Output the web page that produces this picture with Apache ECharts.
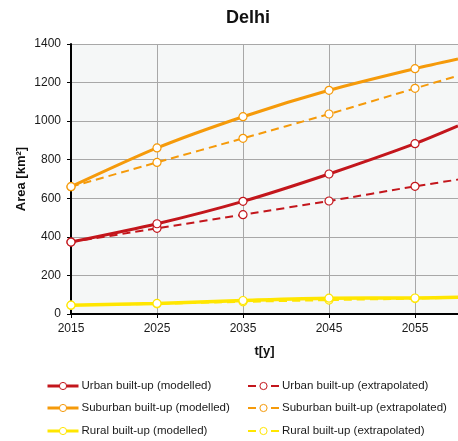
<!DOCTYPE html>
<html>
<head>
<meta charset="utf-8">
<script src="https://cdn.jsdelivr.net/npm/echarts@6/dist/echarts.min.js"></script>
<style>
  html, body { margin: 0; padding: 0; background: #ffffff; overflow: hidden; }
  #chart { width: 458px; height: 441px; }
</style>
</head>
<body>
<div id="chart"></div>
<script>
// Built-up area projections for Delhi (km²), sampled every decade plus the 2060 end point
const years = [2015, 2025, 2035, 2045, 2055, 2060];
const urbanModelled = [373, 468, 584, 726, 883, 975];
const urbanExtrapolated = [373, 444, 515, 586, 662, 697];
const suburbanModelled = [660, 861, 1023, 1160, 1272, 1322];
const suburbanExtrapolated = [660, 786, 911, 1037, 1170, 1235];
const ruralModelled = [46, 55, 70, 82, 83, 87];
const ruralExtrapolated = [46, 53, 63, 72, 80, 84];
const yTicks = [0, 200, 400, 600, 800, 1000, 1200, 1400];

const FONT = '"Liberation Sans", Arial, sans-serif';
const RED = '#c3161c';
const ORANGE = '#f59a0a';
const YELLOW = '#ffe600';

const names = {
  urbanMod: 'Urban built-up (modelled)',
  suburbanMod: 'Suburban built-up (modelled)',
  ruralMod: 'Rural built-up (modelled)',
  urbanExt: 'Urban built-up (extrapolated)',
  suburbanExt: 'Suburban built-up (extrapolated)',
  ruralExt: 'Rural built-up (extrapolated)'
};

// pair years with values; the end point carries no marker
function pairs(vals) {
  return vals.map((v, i) => {
    const item = { value: [years[i], v] };
    if (i === years.length - 1) item.symbol = 'none';
    return item;
  });
}

function lineSeries(name, vals, color, dashed) {
  return {
    name: name,
    type: 'line',
    data: pairs(vals),
    smooth: 0.25,
    symbol: 'circle',
    symbolSize: 8,
    showAllSymbol: true,
    z: dashed ? 2 : 3,
    itemStyle: { color: '#ffffff', borderColor: color, borderWidth: 1.2 },
    lineStyle: dashed
      ? { color: color, width: 2, type: [8, 5] }
      : { color: color, width: color === YELLOW ? 3.5 : 3 },
    emphasis: { disabled: true }
  };
}

// one legend entry per component so each sits on its own row/column
function legendEntry(name, left, top, dashed) {
  return {
    orient: 'horizontal',
    left: left, top: top,
    padding: 0,
    itemWidth: 31, itemHeight: 9, itemGap: 0,
    itemStyle: { borderWidth: 1 },
    lineStyle: dashed ? { type: [8, 15], width: 2 } : { width: 3 },
    textStyle: { fontFamily: FONT, fontSize: 11.5, color: '#1a1a1a', lineHeight: 14, padding: [0, 0, 0, -2] },
    data: [name]
  };
}

const chart = echarts.init(document.getElementById('chart'), null, { renderer: 'canvas' });

chart.setOption({
  animation: false,
  backgroundColor: '#ffffff',
  title: {
    text: 'Delhi',
    left: 243,
    textAlign: 'center',
    top: 4,
    textStyle: { fontFamily: FONT, fontSize: 18, fontWeight: 'bold', color: '#111111' }
  },
  grid: {
    left: 71, top: 44, right: -5, bottom: 127,
    show: true, backgroundColor: '#f5f7f7', borderWidth: 0
  },
  xAxis: {
    type: 'value',
    min: 2015, max: 2060, interval: 10,
    name: 't[y]',
    nameLocation: 'middle',
    nameGap: 31,
    nameMoveOverlap: false,
    nameTextStyle: { fontFamily: FONT, fontSize: 13, fontWeight: 'bold', color: '#111111' },
    axisLine: { show: true, onZero: false, lineStyle: { color: '#000000', width: 2 } },
    axisTick: { show: true, length: 4, lineStyle: { color: '#000000', width: 1 } },
    axisLabel: {
      fontFamily: FONT, fontSize: 12, color: '#1a1a1a', margin: 9,
      showMaxLabel: false,
      formatter: v => String(v)
    },
    splitLine: { show: true, lineStyle: { color: '#a8a8a8', width: 1 } }
  },
  yAxis: {
    type: 'value',
    min: yTicks[0], max: yTicks[yTicks.length - 1], interval: 200,
    name: 'Area [km²]',
    nameLocation: 'middle',
    nameGap: 43,
    nameMoveOverlap: false,
    nameTextStyle: { fontFamily: FONT, fontSize: 13, fontWeight: 'bold', color: '#111111' },
    axisLine: { show: true, lineStyle: { color: '#000000', width: 2 } },
    axisTick: { show: true, length: 4, lineStyle: { color: '#000000', width: 1 } },
    axisLabel: { fontFamily: FONT, fontSize: 12, color: '#1a1a1a', margin: 10, formatter: v => String(v) },
    splitLine: { show: true, lineStyle: { color: '#a8a8a8', width: 1 } }
  },
  legend: [
    legendEntry(names.urbanMod, 46, 379, false),
    legendEntry(names.suburbanMod, 46, 401, false),
    legendEntry(names.ruralMod, 46, 424, false),
    legendEntry(names.urbanExt, 247, 379, true),
    legendEntry(names.suburbanExt, 247, 401, true),
    legendEntry(names.ruralExt, 247, 424, true)
  ],
  series: [
    lineSeries(names.urbanExt, urbanExtrapolated, RED, true),
    lineSeries(names.suburbanExt, suburbanExtrapolated, ORANGE, true),
    lineSeries(names.ruralExt, ruralExtrapolated, YELLOW, true),
    lineSeries(names.urbanMod, urbanModelled, RED, false),
    lineSeries(names.suburbanMod, suburbanModelled, ORANGE, false),
    lineSeries(names.ruralMod, ruralModelled, YELLOW, false)
  ]
});
</script>
</body>
</html>
